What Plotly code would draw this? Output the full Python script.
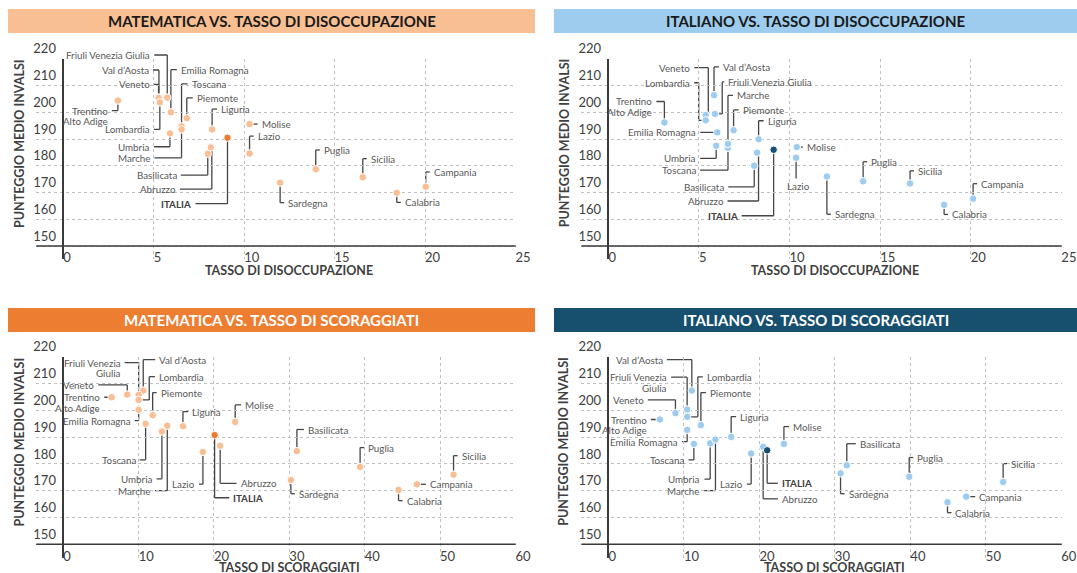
import plotly.graph_objects as go

W, H = 1077, 573

regions = ["Trentino Alto Adige", "Val d’Aosta", "Veneto", "Friuli Venezia Giulia",
           "Lombardia", "Emilia Romagna", "Toscana", "Piemonte", "Liguria", "Molise",
           "Lazio", "Umbria", "Marche", "Basilicata", "Abruzzo", "ITALIA", "Sardegna",
           "Puglia", "Sicilia", "Calabria", "Campania"]

# Matematica vs tasso di disoccupazione
mat_dis_x = [3.02, 5.29, 5.27, 5.75, 5.34, 5.95, 6.54, 6.83, 8.23, 10.3, 10.3, 5.9, 6.54,
             7.99, 8.16, 9.08, 11.99, 13.96, 16.56, 18.44, 20.04]
mat_dis_y = [204.4, 205.5, 205.4, 205.5, 203.7, 200.0, 194.8, 197.8, 193.6, 195.6, 184.6,
             192.1, 193.6, 184.5, 186.9, 190.5, 173.7, 178.7, 175.7, 169.9, 172.2]
# Italiano vs tasso di disoccupazione
ita_dis_x = [3.09, 5.83, 5.37, 5.88, 5.37, 6.01, 6.6, 6.91, 8.29, 10.4, 10.36, 5.95, 6.6,
             8.05, 8.21, 9.12, 12.06, 14.06, 16.65, 18.53, 20.13]
ita_dis_y = [196.2, 206.4, 199.0, 199.4, 197.0, 192.5, 186.7, 193.3, 189.9, 187.0, 183.0,
             187.5, 188.2, 180.0, 184.9, 186.0, 176.0, 174.2, 173.4, 165.4, 167.7]
# Matematica vs tasso di scoraggiati
mat_sco_x = [6.42, 10.61, 8.49, 10.0, 10.0, 10.0, 10.93, 11.86, 15.88, 22.81, 18.53, 13.09,
             13.8, 31.0, 20.82, 20.08, 30.2, 39.39, 51.79, 44.49, 46.92]
mat_sco_y = [204.9, 207.4, 205.9, 205.8, 203.9, 200.2, 195.0, 198.2, 194.1, 195.7, 184.5,
             192.1, 194.3, 184.8, 186.8, 190.8, 174.0, 178.9, 176.0, 170.3, 172.4]
# Italiano vs tasso di scoraggiati
ita_sco_x = [6.81, 11.05, 8.88, 10.43, 10.43, 10.43, 11.32, 12.25, 16.26, 23.25, 18.91, 13.48,
             14.18, 31.58, 20.5, 21.03, 30.75, 39.85, 52.29, 44.92, 47.4]
ita_sco_y = [196.6, 207.4, 199.0, 200.3, 197.6, 192.7, 187.5, 194.5, 190.1, 187.5, 183.9,
             187.7, 189.1, 179.5, 186.4, 185.1, 176.5, 175.2, 173.3, 165.7, 167.8]

x_ticks_dis = [0, 5, 10, 15, 20, 25]
x_ticks_sco = [0, 10, 20, 30, 40, 50, 60]
y_ticks = [150, 160, 170, 180, 190, 200, 210, 220]

# label placement: (elbow dx, label dy, horizontal segment) in pixels from the point
place_tl = {
    "Trentino Alto Adige": (0, 10, -6), "Val d’Aosta": (0, -27.6, -6), "Veneto": (0, -13.6, -5),
    "Friuli Venezia Giulia": (0, -42.6, -13), "Lombardia": (0, 27, -6),
    "Emilia Romagna": (0, -42.6, 6), "Toscana": (0, -42.3, 6), "Piemonte": (0, -20.3, 6),
    "Liguria": (0, -20.3, 5), "Molise": (0, 0, 8), "Lazio": (0, -17.3, 4),
    "Umbria": (0, 13.3, -16), "Marche": (0, 28.4, -27), "Basilicata": (0, 21.3, -27),
    "Abruzzo": (1, 41.7, -32), "ITALIA": (0, 66, -32), "Sardegna": (0, 20, 4),
    "Puglia": (0, -19.3, 4), "Sicilia": (0, -18.6, 4), "Calabria": (0, 9.6, 4),
    "Campania": (0, -14.7, 4)}
place_tr = {
    "Trentino Alto Adige": (0, -21, -8), "Veneto": (2.6, -47.3, -14),
    "Lombardia": (-7, -37.6, -4.5), "Val d’Aosta": (0, -28.3, 5),
    "Friuli Venezia Giulia": (7.3, -32, 2), "Marche": (0, -48.4, 5), "Piemonte": (0, -20.3, 5),
    "Liguria": (0, -18.6, 5), "Emilia Romagna": (0, 0, -17), "Umbria": (0, 12.6, -16),
    "Toscana": (0, 22.3, -28), "Basilicata": (0, 21, -26), "Abruzzo": (1.4, 48.3, -31),
    "ITALIA": (0, 66, -32), "Molise": (0, 0, 6), "Lazio": (0, 20.6, 0),
    "Sardegna": (0, 37.7, 4), "Puglia": (0, -19.6, 4), "Sicilia": (0, -12.6, 4),
    "Calabria": (0, 9.6, 4), "Campania": (0, -15, 4)}
place_bl = {
    "Friuli Venezia Giulia": (0, -32.3, -14), "Val d’Aosta": (0, -31, 12),
    "Lombardia": (10.6, -23.3, 5.7), "Veneto": (0, -9.7, -29),
    "Trentino Alto Adige": (0, 0, -7.4), "Piemonte": (0, -22.6, 4),
    "Emilia Romagna": (0, 10.7, -4), "Toscana": (0, 36, -6), "Umbria": (0, 47.3, -5.3),
    "Marche": (0, 65, -12.3), "Liguria": (0, -14.6, 5.3), "Molise": (0, -17, 6),
    "Lazio": (0, 32.3, -4), "ITALIA": (0, 62.7, 14.6), "Abruzzo": (0, 37.6, 16.4),
    "Basilicata": (0, -21.6, 7), "Sardegna": (0, 13.7, 4), "Puglia": (0, -19.3, 4),
    "Sicilia": (0, -19, 4), "Campania": (0, 0, 9), "Calabria": (0, 10.7, 4)}
place_br = {
    "Val d’Aosta": (0, -31, -25), "Friuli Venezia Giulia": (0, -32.4, -16),
    "Lombardia": (10.7, -40, 5), "Veneto": (0, -13.3, -27.6),
    "Trentino Alto Adige": (0, 0, -9), "Piemonte": (0, -32.6, 5),
    "Emilia Romagna": (0, 11.7, -5.3), "Toscana": (0, 16, -5.4), "Umbria": (0, 35.7, -5.7),
    "Marche": (0, 51, -11.3), "Liguria": (0, -20.3, 5), "Lazio": (0, 30.6, -4.3),
    "Abruzzo": (0, 52, 14.7), "ITALIA": (0, 33, 10.7), "Molise": (0, -17.3, 5),
    "Basilicata": (0, -21.6, 9), "Sardegna": (0, 20.4, 4), "Puglia": (0, -19.3, 4),
    "Sicilia": (0, -18.3, 4), "Campania": (0, 0, 9), "Calabria": (0, 10.4, 4)}

wrap_top = {"Trentino Alto Adige": ["Trentino", "Alto Adige"]}
wrap_bottom = {"Trentino Alto Adige": ["Trentino", "Alto Adige"],
               "Friuli Venezia Giulia": ["Friuli Venezia", "Giulia"]}

FONT = "Lato"
GRID = "#BFBFBF"
AXC = "#404040"
LBL = "#595959"
LEADER = "#454545"
LINE_GAP = 10.5

LEFT_DOM = [36.3 / W, 515.8 / W]
RIGHT_DOM = [581.4 / W, 1061.7 / W]
TOP_DOM = [1 - 259.4 / H, 1 - 58.7 / H]
BOT_DOM = [1 - 557.7 / H, 1 - 356.7 / H]
YR = [145.0, 220.05]

panels = [
    dict(ax="", x=mat_dis_x, y=mat_dis_y, xr=[-1.49, 25.02], xt=x_ticks_dis,
         xd=LEFT_DOM, yd=TOP_DOM, pt="#F8BE94", it="#ED7D31", place=place_tl, wrap=wrap_top,
         head="MATEMATICA VS. TASSO DI DISOCCUPAZIONE", hfill="#F8BF93", hcol="#1a1a1a",
         hx=(8, 535), hy=(9, 33), xt_title="TASSO DI DISOCCUPAZIONE"),
    dict(ax="2", x=ita_dis_x, y=ita_dis_y, xr=[-1.49, 25.02], xt=x_ticks_dis,
         xd=RIGHT_DOM, yd=TOP_DOM, pt="#9DCCEE", it="#174F70", place=place_tr, wrap=wrap_top,
         head="ITALIANO VS. TASSO DI DISOCCUPAZIONE", hfill="#9DCCEE", hcol="#1a1a1a",
         hx=(554, 1077), hy=(9, 33), xt_title="TASSO DI DISOCCUPAZIONE"),
    dict(ax="3", x=mat_sco_x, y=mat_sco_y, xr=[-3.58, 60.05], xt=x_ticks_sco,
         xd=LEFT_DOM, yd=BOT_DOM, pt="#F8BE94", it="#ED7D31", place=place_bl, wrap=wrap_bottom,
         head="MATEMATICA VS. TASSO DI SCORAGGIATI", hfill="#ED7D31", hcol="#ffffff",
         hx=(8, 535), hy=(308, 332), xt_title="TASSO DI SCORAGGIATI"),
    dict(ax="4", x=ita_sco_x, y=ita_sco_y, xr=[-3.58, 60.05], xt=x_ticks_sco,
         xd=RIGHT_DOM, yd=BOT_DOM, pt="#9DCCEE", it="#174F70", place=place_br, wrap=wrap_bottom,
         head="ITALIANO VS. TASSO DI SCORAGGIATI", hfill="#17506F", hcol="#ffffff",
         hx=(554, 1077), hy=(308, 332), xt_title="TASSO DI SCORAGGIATI"),
]

fig = go.Figure()
annotations = []
shapes = []
layout_axes = {}

for p in panels:
    xa, ya = "x" + p["ax"], "y" + p["ax"]
    yd_ref = ya + " domain"
    pxx = (p["xd"][1] - p["xd"][0]) * W / (p["xr"][1] - p["xr"][0])
    dom_h = (p["yd"][1] - p["yd"][0]) * H

    def yfrac(v):
        return (v - YR[0]) / (YR[1] - YR[0])

    # leader lines (x in data units, y as fraction of the y-axis domain so they are not clipped)
    for name, x, y in zip(regions, p["x"], p["y"]):
        ex, dy, hl = p["place"][name]
        exd = x + ex / pxx
        yf = yfrac(y)
        lyf = yf - dy / dom_h
        endx = exd + hl / pxx
        if hl == 0:
            pts = [(x, yf), (x, lyf)]
        else:
            pts = [(x, yf), (exd, yf), (exd, lyf), (endx, lyf)]
        for (a0, b0), (a1, b1) in zip(pts[:-1], pts[1:]):
            if a0 == a1 and b0 == b1:
                continue
            shapes.append(dict(type="line", xref=xa, yref=yd_ref, x0=a0, x1=a1, y0=b0, y1=b1,
                               line=dict(color=LEADER, width=1.3), layer="below"))
        bold = name == "ITALIA"
        lines = p["wrap"].get(name, ["<b>ITALIA</b>" if bold else name])
        for k, txt in enumerate(lines):
            ann = dict(xref=xa, yref=yd_ref, x=endx, y=lyf, text=txt, showarrow=False,
                       font=dict(family=FONT, size=9.8, color=AXC if bold else LBL),
                       borderpad=0)
            if hl == 0:
                ann.update(xanchor="center", yanchor="top", xshift=2, yshift=-1)
            else:
                ann.update(xanchor="left" if hl > 0 else "right",
                           xshift=3 if hl > 0 else -3,
                           yanchor="middle", yshift=-k * LINE_GAP)
            annotations.append(ann)

    layout_axes["xaxis" + p["ax"]] = dict(
        domain=p["xd"], range=p["xr"], anchor=ya, tickvals=p["xt"], automargin=False,
        showgrid=True, gridcolor=GRID, griddash="dot", gridwidth=1,
        zeroline=True, zerolinecolor="#3a3a3a", zerolinewidth=1.5,
        showline=False, ticks="", ticklabelposition="outside right",
        ticklabelstandoff=-11, ticklabeloverflow="allow",
        tickfont=dict(family=FONT, size=13, color=AXC))
    layout_axes["yaxis" + p["ax"]] = dict(
        domain=p["yd"], range=YR, anchor=xa, tickvals=y_ticks, automargin=False,
        showgrid=True, gridcolor=GRID, griddash="dot", gridwidth=1,
        zeroline=False, showline=False, ticks="", ticklabelposition="inside",
        ticklabelshift=-10, ticklabelstandoff=-6, ticklabeloverflow="allow",
        tickfont=dict(family=FONT, size=13, color=AXC))

    # x axis line at 150
    shapes.append(dict(type="line", xref=xa + " domain", yref=ya, x0=0, x1=1, y0=150, y1=150,
                       line=dict(color="#3a3a3a", width=1.5)))
    # header bar
    shapes.append(dict(type="rect", xref="paper", yref="paper",
                       x0=p["hx"][0] / W, x1=p["hx"][1] / W,
                       y0=1 - p["hy"][1] / H, y1=1 - p["hy"][0] / H,
                       fillcolor=p["hfill"], line=dict(width=0), layer="below"))
    annotations.append(dict(xref="paper", yref="paper", x=(p["hx"][0] + p["hx"][1]) / 2 / W,
                            y=1 - (p["hy"][0] + p["hy"][1]) / 2 / H, text="<b>" + p["head"] + "</b>",
                            showarrow=False, xanchor="center", yanchor="middle",
                            font=dict(family=FONT, size=15, color=p["hcol"])))
    # axis titles
    x0px = p["xd"][0] * W + (0 - p["xr"][0]) * pxx
    xendpx = p["xd"][0] * W + (p["xt"][-1] - p["xr"][0]) * pxx
    title_y = 270.7 if p["yd"] is TOP_DOM else 567.5
    annotations.append(dict(xref="paper", yref="paper", x=(x0px + xendpx) / 2 / W,
                            y=1 - title_y / H, text="<b>" + p["xt_title"] + "</b>",
                            showarrow=False, xanchor="center", yanchor="middle",
                            font=dict(family=FONT, size=12.5, color=AXC)))
    ytx = 19.7 if p["xd"] is LEFT_DOM else 564
    yty = 143.3 if p["yd"] is TOP_DOM else 441.7
    annotations.append(dict(xref="paper", yref="paper", x=ytx / W, y=1 - yty / H,
                            text="<b>PUNTEGGIO MEDIO INVALSI</b>", textangle=-90,
                            showarrow=False, xanchor="center", yanchor="middle",
                            font=dict(family=FONT, size=12.5, color=AXC)))

for p in panels:
    xa, ya = "x" + p["ax"], "y" + p["ax"]
    colors = [p["it"] if n == "ITALIA" else p["pt"] for n in regions]
    fig.add_trace(go.Scatter(x=p["x"], y=p["y"], mode="markers", xaxis=xa, yaxis=ya,
                             marker=dict(size=7.5, color=colors, line=dict(color="white", width=1)),
                             text=regions, hoverinfo="text", showlegend=False, cliponaxis=False))

fig.update_layout(width=W, height=H, margin=dict(l=0, r=0, t=0, b=0, autoexpand=False),
                  paper_bgcolor="white", plot_bgcolor="rgba(0,0,0,0)",
                  font=dict(family=FONT), annotations=annotations, shapes=shapes,
                  showlegend=False, **layout_axes)

fig.write_html("out.html", config={"displayModeBar": False},
               post_script="document.body.style.margin='0px';")
